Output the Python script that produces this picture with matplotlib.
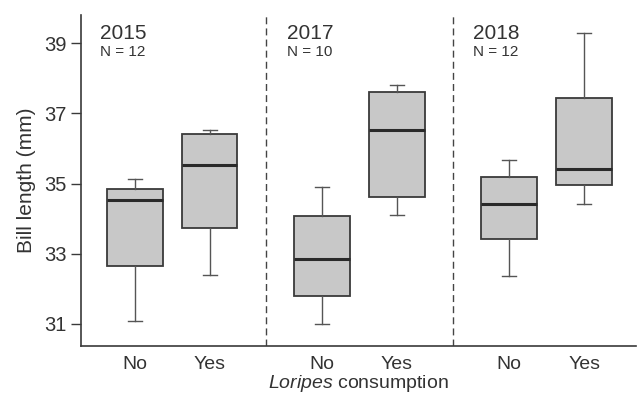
import matplotlib
matplotlib.use("Agg")
import matplotlib.pyplot as plt

plt.rcParams['font.family'] = ['Liberation Sans', 'DejaVu Sans']
plt.rcParams['mathtext.fontset'] = 'custom'
plt.rcParams['mathtext.rm'] = 'Liberation Sans'
plt.rcParams['mathtext.it'] = 'Liberation Sans:italic'

# bill length summaries per year and Loripes consumption group
years = ["2015", "2017", "2018"]
sample_sizes = [12, 10, 12]
groups = ["No", "Yes"]
whisker_low = [31.09, 32.39, 30.99, 34.10, 32.38, 34.41]
q1 = [32.66, 33.72, 31.80, 34.62, 33.42, 34.95]
median = [34.52, 35.53, 32.86, 36.52, 34.42, 35.42]
q3 = [34.85, 36.40, 34.09, 37.61, 35.19, 37.44]
whisker_high = [35.12, 36.52, 34.90, 37.82, 35.68, 39.30]

positions = [0, 1, 2.5, 3.5, 5, 6]
separators = [1.75, 4.25]

stats = []
for i in range(len(positions)):
    stats.append(dict(whislo=whisker_low[i], q1=q1[i], med=median[i],
                      q3=q3[i], whishi=whisker_high[i], fliers=[]))

fig = plt.figure(figsize=(6.37, 3.96), dpi=100)
ax = fig.add_axes([0.127, 0.126, 0.871, 0.836])

dark = "#3a3a3a"
ax.bxp(stats, positions=positions, widths=0.74, patch_artist=True,
       showfliers=False, capwidths=0.19,
       boxprops=dict(facecolor="#c8c8c8", edgecolor=dark, linewidth=1.3),
       medianprops=dict(color="#2a2a2a", linewidth=2.2),
       whiskerprops=dict(color="#555555", linewidth=1.0),
       capprops=dict(color="#555555", linewidth=1.0))

for x in separators:
    ax.axvline(x, color="#444444", linewidth=1.0, linestyle=(0, (5, 3)))

ax.set_xlim(-0.72, 6.69)
ax.set_ylim(30.37, 39.8)
ax.set_yticks([31, 33, 35, 37, 39])
ax.set_xticks(positions)
ax.set_xticklabels(groups * len(years))
ax.tick_params(axis='y', length=7, width=1.0, color=dark, labelsize=14.5,
               labelcolor="#333333", pad=3)
ax.tick_params(axis='x', length=0, labelsize=14, labelcolor="#333333", pad=7)

for s in ["top", "right"]:
    ax.spines[s].set_visible(False)
for s in ["left", "bottom"]:
    ax.spines[s].set_color(dark)
    ax.spines[s].set_linewidth(1.2)

ax.set_ylabel("Bill length (mm)", fontsize=15, color="#333333", labelpad=6)
ax.set_xlabel(r"$\it{Loripes}$ consumption", fontsize=14, color="#333333",
              labelpad=0)

# year and sample size in the top-left of each panel
label_x = [-0.47, 2.03, 4.52]
for x, yr, n in zip(label_x, years, sample_sizes):
    ax.text(x, 39.28, yr, fontsize=15, color="#333333", va="center", ha="left")
    ax.text(x, 38.76, f"N = {n}", fontsize=11, color="#333333", va="center",
            ha="left")

fig.savefig("out.png", dpi=100)
